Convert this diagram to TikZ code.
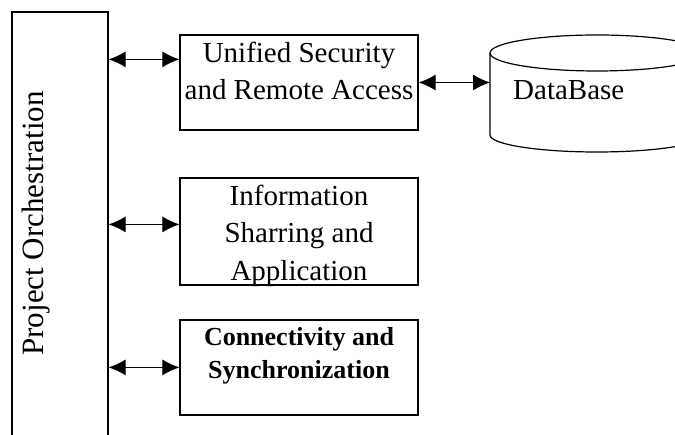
\documentclass[tikz,border=0pt]{standalone}
\usepackage{fontspec}
\setmainfont{Liberation Serif}
\usetikzlibrary{arrows.meta,positioning}

\tikzset{
	module/.style={draw, line width=1.2pt, minimum width=238pt, inner sep=0pt},
	modtext/.style={inner sep=0pt, align=center, font=\fontsize{29}{37}\selectfont},
	boldtext/.style={modtext, font=\fontsize{26}{33}\selectfont\bfseries},
	link/.style={{Latex[length=17pt,width=16pt]}-{Latex[length=17pt,width=16pt]}, line width=1.1pt},
}

\begin{document}
\begin{tikzpicture}[x=1pt,y=1pt]
	
	\clip (0,0) rectangle (675,435);
	
	% orchestration bar, open at the bottom
	\node[draw, line width=1.2pt, minimum width=96pt, minimum height=443pt, inner sep=0pt] (orch) at (60,201.5) {};
	\node[modtext, rotate=90, anchor=base, font=\fontsize{31}{37}\selectfont] (orchlbl) at (43,211.5) {Project Orchestration};
	
	% modules
	\node[module, minimum height=95pt] (usra) at (299,352.5) {};
	\node[module, minimum height=107pt] (isa) at (299,203.5) {};
	\node[module, minimum height=95pt] (cs) at (299,67.5) {};
	
	\node[modtext, below=7pt of usra.north] (usralbl) {Unified Security\\and Remote Access};
	\node[modtext, below=7pt of isa.north, font=\fontsize{29}{37.5}\selectfont] (isalbl) {Information\\Sharring and\\Application};
	\node[boldtext, below=8pt of cs.north] (cslbl) {Connectivity and\\Synchronization};
	
	% database cylinder, cut by the right edge
	\draw[line width=1.2pt] (490,382) -- (490,300) arc[start angle=180, end angle=360, x radius=107, y radius=17] -- (704,382);
	\draw[line width=1.2pt] (597,382) ellipse[x radius=107, y radius=18];
	\coordinate (db) at (490,351);
	\node[modtext, anchor=base west] (dblbl) at (513,335) {DataBase};
	
	% links
	\coordinate[below=25pt of usra.north west] (p1);
	\coordinate[below=47pt of isa.north west] (p2);
	\coordinate[below=48pt of cs.north west] (p3);
	
	\draw[link] (orch.east |- p1) -- (p1);
	\draw[link] (orch.east |- p2) -- (p2);
	\draw[link] (orch.east |- p3) -- (p3);
	\draw[link] (usra.east) -- (usra.east -| db);
	
\end{tikzpicture}
\end{document}
